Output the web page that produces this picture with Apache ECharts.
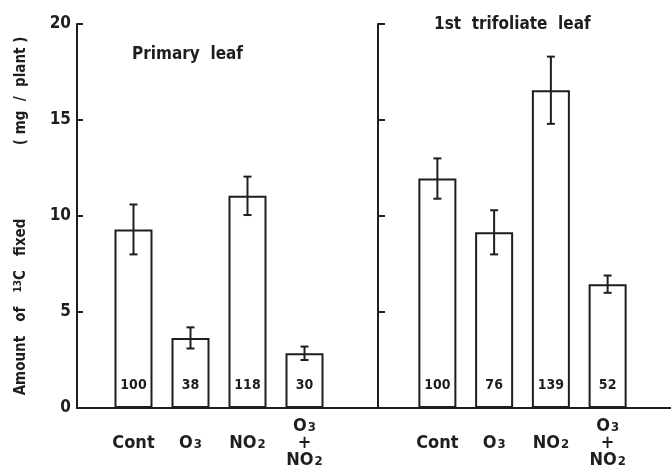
<!DOCTYPE html>
<html>
<head>
<meta charset="utf-8">
<script src="https://cdn.jsdelivr.net/npm/echarts@6/dist/echarts.min.js"></script>
<style>html,body{margin:0;padding:0;background:#fff;}#c{width:671px;height:469px;}</style>
</head>
<body>
<div id="c"></div>
<script>
const categories = ['Cont', 'O3', 'NO2', 'O3+NO2'];
const primaryValues = [9.3, 3.65, 11.05, 2.85];
const primaryErrors = [1.3, 0.55, 1.0, 0.35];
const primaryPercent = [100, 38, 118, 30];
const trifoliateValues = [11.95, 9.15, 16.55, 6.45];
const trifoliateErrors = [1.05, 1.15, 1.75, 0.45];
const trifoliatePercent = [100, 76, 139, 52];
const yMin = 0, yMax = 20, yInterval = 5;

const FONT = "'Liberation Sans Narrow', 'DejaVu Sans Condensed', 'Arial Narrow', sans-serif";
const INK = '#1e1e1e';

const chart = echarts.init(document.getElementById('c'), null, {renderer: 'canvas'});

function catLabel(v) {
  if (v === 'Cont') return '{b|Cont}';
  if (v === 'O3') return '{b|O}{s|3}';
  if (v === 'NO2') return '{b|NO}{s|2}';
  if (v === 'O3+NO2') return '{b|O}{s|3}\n{b|+}\n{b|NO}{s|2}';
  return v;
}
const catRich = {
  b: {fontFamily: FONT, fontWeight: 'bold', fontSize: 18, color: INK, lineHeight: 17},
  s: {fontFamily: FONT, fontWeight: 'bold', fontSize: 13, color: INK, lineHeight: 17, verticalAlign: 'bottom', padding: [6, 0, 0, 1]}
};

function errSeries(xi, vals, errs) {
  return {
    type: 'custom', xAxisIndex: xi, yAxisIndex: xi, z: 5,
    data: vals.map((v, i) => [i, v, errs[i]]),
    encode: {x: 0, y: 1},
    renderItem: function (params, api) {
      const x = api.value(0), v = api.value(1), e = api.value(2);
      const t = api.coord([x, v + e]);
      const b = api.coord([x, v - e]);
      const hw = 4;
      const st = {stroke: INK, lineWidth: 2};
      return {type: 'group', children: [
        {type: 'line', shape: {x1: t[0], y1: t[1], x2: b[0], y2: b[1]}, style: st},
        {type: 'line', shape: {x1: t[0] - hw, y1: t[1], x2: t[0] + hw, y2: t[1]}, style: st},
        {type: 'line', shape: {x1: b[0] - hw, y1: b[1], x2: b[0] + hw, y2: b[1]}, style: st}
      ]};
    }
  };
}

function barSeries(xi, vals, pct) {
  return {
    type: 'bar', xAxisIndex: xi, yAxisIndex: xi, barWidth: 38, z: 3,
    data: vals,
    itemStyle: {color: '#fff', borderColor: INK, borderWidth: 2},
    label: {
      show: true, position: 'insideBottom', distance: 16,
      formatter: p => String(pct[p.dataIndex]),
      fontFamily: FONT, fontWeight: 'bold', fontSize: 14, color: INK
    }
  };
}

const TOP = 24, BOTTOM = 61;

const option = {
  backgroundColor: '#fff',
  animation: false,
  title: [
    {text: 'Primary  leaf', left: 127, top: 41,
     textStyle: {fontFamily: FONT, fontWeight: 'bold', fontSize: 17, color: INK}},
    {text: '1st  trifoliate  leaf', left: 429, top: 11,
     textStyle: {fontFamily: FONT, fontWeight: 'bold', fontSize: 17, color: INK}}
  ],
  grid: [
    {left: 77, right: 0, top: TOP, bottom: BOTTOM},
    {left: 105, width: 228, top: TOP, bottom: BOTTOM},
    {left: 409, width: 227, top: TOP, bottom: BOTTOM}
  ],
  xAxis: [
    {gridIndex: 0, type: 'value', min: 0, max: 1, axisLine: {show: true, lineStyle: {color: INK, width: 2}},
     axisTick: {show: false}, axisLabel: {show: false}, splitLine: {show: false}},
    {gridIndex: 1, type: 'category', data: categories, axisLine: {show: false}, axisTick: {show: false},
     axisLabel: {margin: 35, verticalAlign: 'middle', formatter: catLabel, rich: catRich, interval: 0}},
    {gridIndex: 2, type: 'category', data: categories, axisLine: {show: false}, axisTick: {show: false},
     axisLabel: {margin: 35, verticalAlign: 'middle', formatter: catLabel, rich: catRich, interval: 0}}
  ],
  yAxis: [
    {gridIndex: 0, type: 'value', min: yMin, max: yMax, interval: yInterval,
     axisLine: {show: true, lineStyle: {color: INK, width: 2}},
     axisTick: {show: true, inside: true, length: 6, lineStyle: {color: INK, width: 2}},
     axisLabel: {margin: 6, fontFamily: FONT, fontWeight: 'bold', fontSize: 17, color: INK},
     splitLine: {show: false},
     name: '{a|Amount   of   }{sup|13}{a|C   fixed}                      {a|( mg  /  plant )}',
     nameLocation: 'middle', nameGap: 47, nameRotate: 90,
     nameTextStyle: {rich: {
       a: {fontFamily: FONT, fontWeight: 'bold', fontSize: 15, color: INK},
       sup: {fontFamily: FONT, fontWeight: 'bold', fontSize: 10, color: INK, verticalAlign: 'top', padding: [0, 0, 7, 0]}
     }}},
    {gridIndex: 1, type: 'value', min: yMin, max: yMax, interval: yInterval, show: false},
    {gridIndex: 2, type: 'value', min: yMin, max: yMax, interval: yInterval, offset: 31,
     axisLine: {show: true, lineStyle: {color: INK, width: 2}},
     axisTick: {show: true, inside: true, length: 7, lineStyle: {color: INK, width: 2}},
     axisLabel: {show: false}, splitLine: {show: false}}
  ],
  series: [
    barSeries(1, primaryValues, primaryPercent),
    errSeries(1, primaryValues, primaryErrors),
    barSeries(2, trifoliateValues, trifoliatePercent),
    errSeries(2, trifoliateValues, trifoliateErrors)
  ]
};
chart.setOption(option);
</script>
</body>
</html>
